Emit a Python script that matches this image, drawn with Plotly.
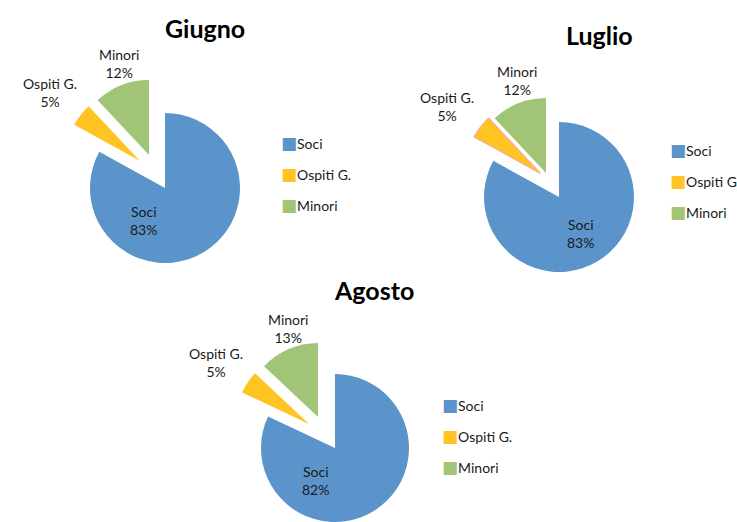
import plotly.graph_objects as go

# ---------------- data ----------------
months = ["Giugno", "Luglio", "Agosto"]
categories = ["Soci", "Ospiti G.", "Minori"]
giugno = [83, 5, 12]
luglio = [83, 5, 12]
agosto = [82, 5, 13]
legend_labels_luglio = ["Soci", "Ospiti G", "Minori"]

# ---------------- styles / layout ----------------
W, H = 737, 522
colors = ["#5A94CB", "#FFC423", "#A1C477"]
TRANSP = "rgba(0,0,0,0)"
FONT = "Lato"
TXT = "#1a1a1a"

# apex (cx, cy) and radius in px for each slice: [Soci, Ospiti, Minori]
geom = {
    "Giugno": [(165, 188, 75), (140, 161, 75), (149, 155, 75)],
    "Luglio": [(559, 197, 75), (540, 173, 75), (546, 173, 75)],
    "Agosto": [(335, 448, 74), (309, 424, 74), (318, 417, 74)],
}
titles_pos = {"Giugno": (205, 28), "Luglio": (599, 35), "Agosto": (374, 290)}
label_pos = {
    "Giugno": [(143, 220), (50, 93), (119, 63)],
    "Luglio": [(580, 233), (447, 107), (517, 81)],
    "Agosto": [(315, 480), (216, 362), (288, 328)],
}
legend_pos = {"Giugno": (241, 128), "Luglio": (630, 135), "Agosto": (402, 390)}
legend_ids = {"Giugno": "legend", "Luglio": "legend2", "Agosto": "legend3"}

values = {"Giugno": giugno, "Luglio": luglio, "Agosto": agosto}


def dom(cx, cy, r):
    return dict(x=[max(0, (cx - r) / W), min(1, (cx + r) / W)],
                y=[max(0, 1 - (cy + r) / H), min(1, 1 - (cy - r) / H)])


fig = go.Figure()
annotations = []

for m in months:
    vals = values[m]
    total = sum(vals)
    for i, cat in enumerate(categories):
        cx, cy, r = geom[m][i]
        cols = [colors[j] if j == i else TRANSP for j in range(3)]
        lw = [0, 0, 0]
        lc = ["white"] * 3
        if m == "Luglio" and i == 1:
            lw[1] = 1.5
            lc[1] = "#F6B183"
        fig.add_trace(go.Pie(
            values=vals, labels=categories, sort=False, direction="clockwise",
            rotation=0, textinfo="none", hoverinfo="skip", showlegend=False,
            marker=dict(colors=cols, line=dict(width=lw, color=lc)),
            domain=dom(cx, cy, r),
        ))
        lx, ly = label_pos[m][i]
        annotations.append(dict(
            text=f"{cat}<br>{round(vals[i] / total * 100)}%",
            x=lx / W, y=1 - ly / H, xref="paper", yref="paper",
            xanchor="center", yanchor="middle", showarrow=False,
            font=dict(family=FONT, size=14, color=TXT),
        ))
    tx, ty = titles_pos[m]
    annotations.append(dict(
        text=f"<b>{m}</b>", x=tx / W, y=1 - ty / H, xref="paper", yref="paper",
        xanchor="center", yanchor="middle", showarrow=False,
        font=dict(family=FONT, size=25, color="#000000"),
    ))
    # legend entries
    leg_names = legend_labels_luglio if m == "Luglio" else categories
    for i, cat in enumerate(leg_names):
        fig.add_trace(go.Scatter(
            x=[None], y=[None], mode="markers",
            marker=dict(color=TRANSP, size=1),
            name=f'<span style="color:{colors[i]};font-family:DejaVu Sans;font-size:17px">■</span>{cat}',
            legend=legend_ids[m], legendgroup=f"{m}{i}", hoverinfo="skip",
        ))

leg_common = dict(bgcolor="rgba(0,0,0,0)", font=dict(family=FONT, size=14, color=TXT),
                  traceorder="grouped", tracegroupgap=10, xanchor="left", yanchor="top",
                  itemclick=False, itemdoubleclick=False)
legs = {}
for m in months:
    lx, ly = legend_pos[m]
    legs[legend_ids[m]] = dict(x=lx / W, y=1 - ly / H, **leg_common)

fig.update_layout(
    width=W, height=H, margin=dict(l=0, r=0, t=0, b=0, autoexpand=False),
    paper_bgcolor="white", plot_bgcolor="white",
    xaxis=dict(visible=False), yaxis=dict(visible=False),
    annotations=annotations,
    **legs,
)

fig.write_html("out.html", config={"displayModeBar": False},
               post_script="document.body.style.margin='0px';")
